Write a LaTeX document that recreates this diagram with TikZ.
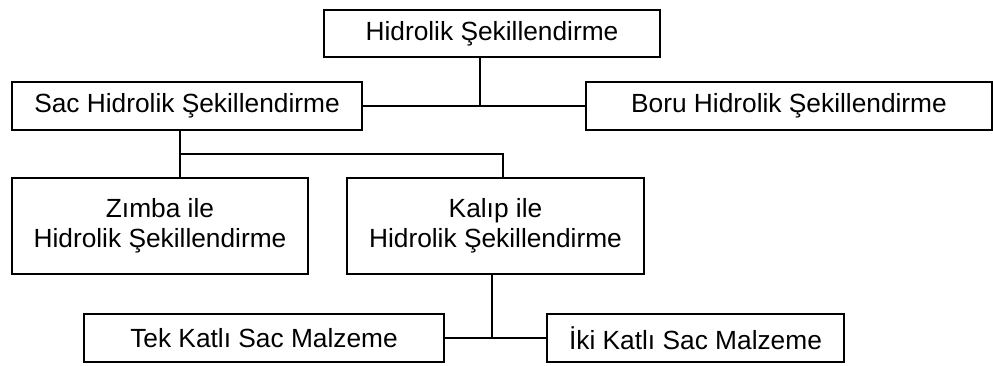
\documentclass[tikz,border=0pt]{standalone}
\usepackage{fontspec}
\setmainfont{Liberation Sans}
\begin{document}
\begin{tikzpicture}[x=1pt,y=-1pt,
  box/.style={draw, line width=1.5pt, inner sep=0pt, align=center,
    font=\fontsize{26.3}{30}\selectfont},
  conn/.style={line width=1.5pt}]
\useasboundingbox (0,0) rectangle (993,365);
\node[box, minimum width=336, minimum height=47] (top) at (492,33.5) {Hidrolik Şekillendirme};
\node[box, minimum width=350, minimum height=48] (sac) at (187,106) {Sac Hidrolik Şekillendirme};
\node[box, minimum width=406, minimum height=48] (boru) at (789,106) {Boru Hidrolik Şekillendirme};
\node[box, minimum width=296, minimum height=96] (zimba) at (160,226) {Zımba ile\\Hidrolik Şekillendirme};
\node[box, minimum width=297, minimum height=96] (kalip) at (495.5,226) {Kalıp ile\\Hidrolik Şekillendirme};
\node[box, minimum width=360, minimum height=48] (tek) at (264,338) {Tek Katlı Sac Malzeme};
\node[box, minimum width=297, minimum height=48] (iki) at (695.5,338) {İki Katlı Sac Malzeme};
\coordinate (j1) at (480,106);
\coordinate (j2) at (180,154);
\coordinate (j3) at (503,154);
\coordinate (j4) at (492,339);
\draw[conn] (top.south -| j1) -- (j1);
\draw[conn] (sac.east) -- (boru.west);
\draw[conn] (sac.south -| j2) -- (j2) -- (zimba.north -| j2);
\draw[conn] (j2) -- (j3) -- (kalip.north -| j3);
\draw[conn] (kalip.south -| j4) -- (j4);
\draw[conn] (tek.east) -- (iki.west);
\end{tikzpicture}
\end{document}
